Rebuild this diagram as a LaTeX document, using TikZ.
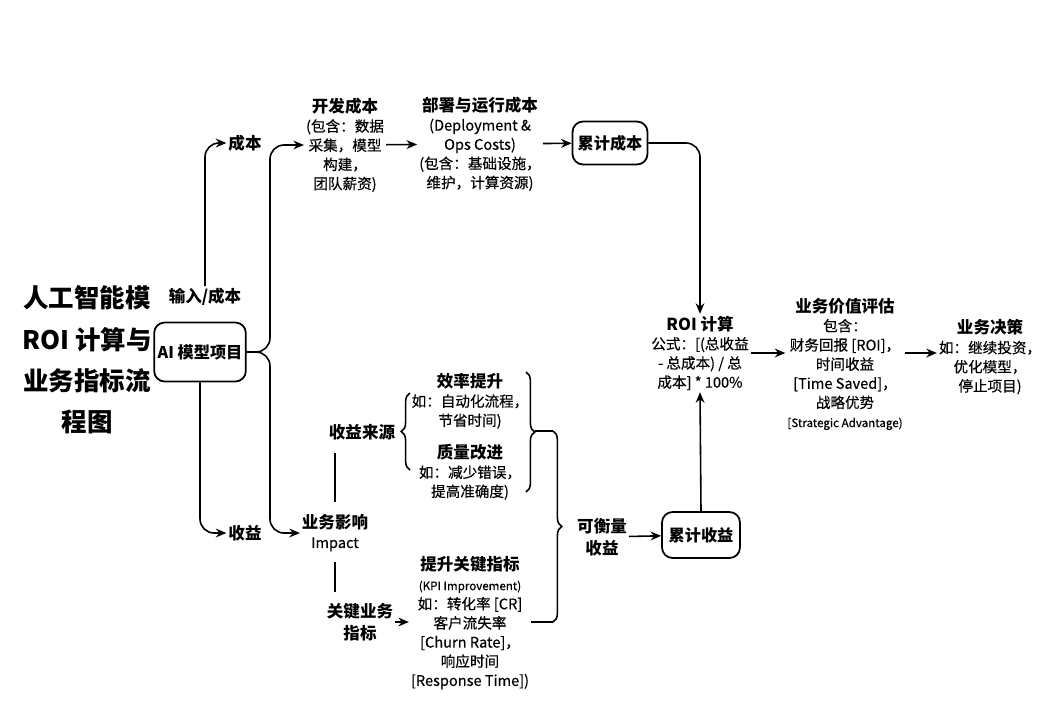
\documentclass[tikz,border=0pt]{standalone}
\usepackage{fontspec}
\setmainfont{Noto Sans CJK SC}[UprightFeatures={FakeBold=0.35}]
\usetikzlibrary{arrows.meta, decorations.pathreplacing}

\newcommand{\hd}[1]{{\fontsize{9.4}{11}\selectfont\bfseries #1}}
\newcommand{\sm}[1]{{\fontsize{6.6}{8}\selectfont #1}}

\begin{document}
\begin{tikzpicture}[
  x=0.02cm, y=-0.02cm,
  font=\fontsize{8.3}{10.9}\selectfont,
  txt/.style={align=center, inner sep=1pt},
  lbl/.style={align=center, inner sep=1pt, font=\fontsize{9.4}{12.4}\selectfont\bfseries},
  box/.style={
    rectangle, rounded corners=6pt,
    draw, line width=1pt,
    inner sep=2pt, font=\fontsize{9.2}{11}\selectfont\bfseries
  },
  arr/.style={-{Stealth[length=6pt, width=5pt]}, line width=0.9pt},
  ln/.style={line width=0.9pt},
  brc/.style={decorate, decoration={brace, amplitude=5pt}, line width=0.9pt}
]

\useasboundingbox[fill=white] (0,0) rectangle (1050,711);

\node[align=center, font=\fontsize{14.5}{23.5}\selectfont\bfseries] (title) at (87,360)
  {人工智能模\\ROI 计算与\\业务指标流\\程图};

\node[lbl] (inlabel) at (205,297) {输入/成本};
\node[box, minimum width=1.8cm, minimum height=1.18cm] (ai) at (200,352) {AI 模型项目};
\node[lbl] (cost) at (245,143) {成本};
\node[lbl] (gain) at (245,533) {收益};

\node[txt] (dev) at (345,145) {\hd{开发成本}\\(包含：数据\\采集，模型\\构建，\\团队薪资)};
\node[txt] (ops) at (480,144) {\hd{部署与运行成本}\\(Deployment \&\\Ops Costs)\\(包含：基础设施，\\维护，计算资源)};
\node[box, minimum width=1.5cm, minimum height=0.86cm] (cumcost) at (610,143) {累计成本};

\node[txt] (roi) at (700,353) {\hd{ROI 计算}\\公式：[(总收益\\- 总成本) / 总\\成本] * 100\%};
\node[txt] (value) at (845,364) {\hd{业务价值评估}\\包含：\\财务回报 [ROI]，\\时间收益\\{}[Time Saved]，\\战略优势\\\sm{[Strategic Advantage)}};
\node[txt] (decide) at (990,357) {\hd{业务决策}\\如：继续投资，\\优化模型，\\停止项目)};

\node[lbl] (source) at (362,432) {收益来源};
\node[txt] (eff) at (470,401) {\hd{效率提升}\\如：自动化流程，\\节省时间)};
\node[txt] (qual) at (470,472) {\hd{质量改进}\\如：减少错误，\\提高准确度)};
\node[txt] (impact) at (335,533) {\hd{业务影响}\\Impact};
\node[lbl] (kbm) at (360,622) {关键业务\\指标};
\node[txt] (kpi) at (470,623) {\hd{提升关键指标}\\\sm{(KPI Improvement)}\\如：转化率 [CR]\\客户流失率\\{}[Churn Rate]，\\响应时间\\{}[Response Time])};

\node[lbl] (measure) at (602,537) {可衡量\\收益};
\node[box, minimum width=1.56cm, minimum height=0.92cm] (cumgain) at (701,535) {累计收益};

\coordinate (split) at (270,352);

% cost branch
\draw[arr, rounded corners=8pt] (inlabel.north) |- (cost.west);
\draw[arr, rounded corners=8pt] (ai.east) -- (split) |- (dev.west);
\draw[arr] (dev) -- (ops);
\draw[arr] (ops) -- (cumcost);
\draw[arr, rounded corners=8pt] (cumcost.east) -| (roi.north);

% benefit branch
\draw[arr, rounded corners=8pt] (ai.south) |- (gain.west);
\draw[arr, rounded corners=8pt] (ai.east) -- (split) |- (impact.west);
\draw[ln, shorten <=6pt, shorten >=6pt] (impact.north) -- (impact.north |- source.south);
\draw[ln, shorten <=5pt, shorten >=5pt] (impact.south) -- (impact.south |- kbm.north);
\draw[arr] (kbm) -- (kpi.west |- kbm);

\draw[brc] (410,470) -- (410,393);
\draw[brc] (526,372) -- (526,492);
\draw[ln] (535,431) -- (553,431);
\draw[brc] (553,431) -- (553,622);
\draw[ln] (kpi.east |- 0,622) -- (553,622);

\draw[arr] (measure) -- (cumgain);
\draw[arr] (cumgain.north) -- (roi.south);

% evaluation
\draw[arr] (roi.east) -- (roi.east -| value.west);
\draw[arr] (value.east |- roi.east) -- (decide.west |- roi.east);

\end{tikzpicture}
\end{document}
